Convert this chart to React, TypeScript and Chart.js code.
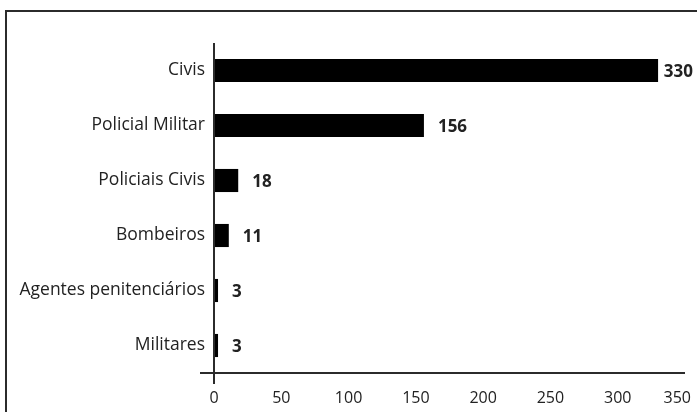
import React, { useEffect, useRef } from "react";
import { Chart, registerables } from "chart.js";

Chart.register(...registerables);

const categories = [
  "Civis",
  "Policial Militar",
  "Policiais Civis",
  "Bombeiros",
  "Agentes penitenciários",
  "Militares",
];
const values = [330, 156, 18, 11, 3, 3];
const xTicks = [0, 50, 100, 150, 200, 250, 300, 350];

const FONT = "'Open Sans', 'DejaVu Sans', sans-serif";

const axisLinesPlugin = {
  id: "axisLines",
  afterDraw(chart: any) {
    const { ctx, chartArea } = chart;
    const x = chart.scales.x;
    const x0 = x.getPixelForValue(0);
    ctx.save();
    ctx.strokeStyle = "#2b2b2b";
    ctx.lineWidth = 2;
    ctx.beginPath();
    ctx.moveTo(x0, chartArea.top);
    ctx.lineTo(x0, chartArea.bottom + 11);
    ctx.moveTo(x0 - 14, chartArea.bottom);
    ctx.lineTo(chartArea.right, chartArea.bottom);
    ctx.stroke();

    // x tick labels, kept inside the canvas
    ctx.font = `16px ${FONT}`;
    ctx.fillStyle = "#222";
    ctx.textBaseline = "middle";
    ctx.textAlign = "left";
    xTicks.forEach((v) => {
      const txt = String(v);
      const w = ctx.measureText(txt).width;
      let px = x.getPixelForValue(v) - w / 2;
      const maxX = chart.width - 6 - w;
      if (px > maxX) px = maxX;
      ctx.fillText(txt, px, chartArea.bottom + 25);
    });
    ctx.restore();
  },
};

const valueLabelsPlugin = {
  id: "valueLabels",
  afterDatasetsDraw(chart: any) {
    const { ctx } = chart;
    const meta = chart.getDatasetMeta(0);
    ctx.save();
    ctx.font = `bold 17px ${FONT}`;
    ctx.fillStyle = "#222";
    ctx.textBaseline = "middle";
    ctx.textAlign = "left";
    meta.data.forEach((bar: any, i: number) => {
      const txt = String(values[i]);
      const w = ctx.measureText(txt).width;
      let px = bar.x + 14;
      const maxX = chart.width - 4 - w;
      if (px > maxX) px = maxX;
      ctx.fillText(txt, px, bar.y + 2);
    });
    ctx.restore();
  },
};

export default function App() {
  const ref = useRef<HTMLCanvasElement>(null);
  useEffect(() => {
    if (!ref.current) return;
    const chart = new Chart(ref.current, {
      type: "bar",
      data: {
        labels: categories,
        datasets: [
          {
            data: values,
            backgroundColor: "#000",
            borderWidth: 0,
            barPercentage: 0.42,
            categoryPercentage: 1,
          },
        ],
      },
      options: {
        indexAxis: "y",
        responsive: false,
        animation: false,
        layout: { padding: { top: 43, right: 12, left: 0, bottom: 0 } },
        plugins: {
          legend: { display: false },
          tooltip: { enabled: false },
        },
        scales: {
          x: {
            type: "linear",
            min: 0,
            max: 350,
            afterBuildTicks: (scale: any) => {
              scale.ticks = xTicks.map((v) => ({ value: v }));
            },
            afterFit: (scale: any) => {
              scale.height = 39;
              scale.paddingLeft = 0;
              scale.paddingRight = 0;
            },
            grid: { display: false },
            border: { display: false },
            ticks: { display: false },
          },
          y: {
            type: "category",
            afterFit: (scale: any) => {
              scale.width = 214;
              scale.paddingTop = 0;
              scale.paddingBottom = 0;
            },
            grid: { display: false },
            border: { display: false },
            ticks: {
              color: "#222",
              font: { family: FONT, size: 17.5 },
              padding: 1,
              autoSkip: false,
            },
          },
        },
      },
      plugins: [axisLinesPlugin, valueLabelsPlugin],
    });
    return () => chart.destroy();
  }, []);

  return (
    <div
      style={{
        position: "absolute",
        left: 0,
        top: 0,
        width: 697,
        height: 412,
        overflow: "hidden",
        background: "#fff",
      }}
    >
      <div
        style={{
          position: "absolute",
          left: 5,
          top: 10,
          width: 720,
          height: 440,
          border: "2px solid #2b2b2b",
          boxSizing: "border-box",
        }}
      />
      <canvas
        ref={ref}
        width={697}
        height={412}
        style={{ position: "absolute", left: 0, top: 0, width: 697, height: 412 }}
      />
    </div>
  );
}
